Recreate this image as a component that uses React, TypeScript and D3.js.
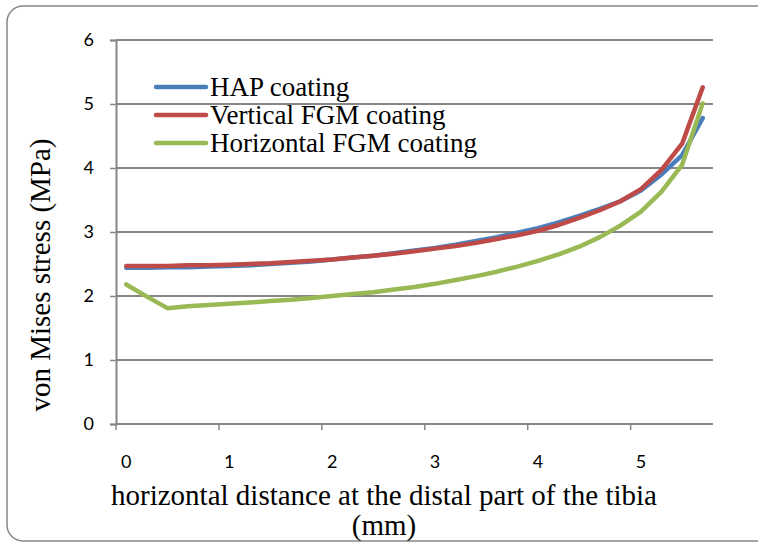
import { useEffect, useRef } from 'react';
import * as d3 from 'd3';

// categories (mm), step 0.2 — only every 5th label is shown on the axis
const categories = [
  '0', '0.2', '0.4', '0.6', '0.8', '1', '1.2', '1.4', '1.6', '1.8',
  '2', '2.2', '2.4', '2.6', '2.8', '3', '3.2', '3.4', '3.6', '3.8',
  '4', '4.2', '4.4', '4.6', '4.8', '5', '5.2', '5.4', '5.6',
];
const shownLabels = ['0', '1', '2', '3', '4', '5'];
const yTicks = [0, 1, 2, 3, 4, 5, 6];

const hap = [
  2.44, 2.44, 2.45, 2.45, 2.46, 2.47, 2.48, 2.50, 2.52, 2.54,
  2.57, 2.60, 2.63, 2.67, 2.71, 2.75, 2.80, 2.86, 2.92, 2.99,
  3.06, 3.15, 3.25, 3.36, 3.48, 3.65, 3.90, 4.20, 4.78,
];
const vertical = [
  2.47, 2.47, 2.47, 2.48, 2.48, 2.49, 2.50, 2.51, 2.53, 2.55,
  2.57, 2.60, 2.63, 2.66, 2.70, 2.74, 2.78, 2.83, 2.89, 2.95,
  3.02, 3.11, 3.22, 3.34, 3.48, 3.67, 3.97, 4.38, 5.26,
];
const horizontal = [
  2.18, 1.99, 1.81, 1.84, 1.86, 1.88, 1.90, 1.92, 1.94, 1.97,
  2.00, 2.03, 2.06, 2.10, 2.14, 2.19, 2.25, 2.31, 2.38, 2.46,
  2.55, 2.65, 2.77, 2.92, 3.10, 3.32, 3.63, 4.05, 5.01,
];

const seriesNames = ['HAP coating', 'Vertical FGM coating', 'Horizontal FGM coating'];
const seriesColors = ['#4a7ebb', '#be4b48', '#98b954'];

const serif = '"Liberation Serif", "Times New Roman", serif';

const App = () => {
  const ref = useRef<SVGSVGElement>(null);

  useEffect(() => {
    const svg = d3.select(ref.current);
    svg.selectAll('*').remove();

    const left = 116, right = 713, top = 40, bottom = 424;
    const grid = '#868686';

    // outer rounded frame
    svg.append('rect')
      .attr('x', 7).attr('y', 6).attr('width', 780).attr('height', 535)
      .attr('rx', 16).attr('fill', 'white')
      .attr('stroke', grid).attr('stroke-width', 1.5);

    const x = d3.scaleBand().domain(categories).range([left, right]).padding(0);
    const y = d3.scaleLinear().domain([0, 6]).range([bottom, top]);

    // gridlines
    svg.append('g').selectAll('line')
      .data(yTicks.filter((t) => t > 0))
      .join('line')
      .attr('x1', left).attr('x2', right)
      .attr('y1', (d) => y(d)).attr('y2', (d) => y(d))
      .attr('stroke', grid).attr('stroke-width', 2);

    // y axis
    const gy = svg.append('g').attr('transform', `translate(${left},0)`)
      .call(d3.axisLeft(y).tickValues(yTicks).tickSize(6).tickPadding(16).tickFormat(d3.format('d')));
    gy.select('.domain').attr('stroke', grid).attr('stroke-width', 2);
    gy.selectAll('.tick line').attr('stroke', grid).attr('stroke-width', 1.5);
    gy.selectAll('text').attr('fill', '#000').style('font-family', 'Lato').style('font-size', '18px');

    // x axis: line + tick marks at category boundaries (every 5th)
    svg.append('line')
      .attr('x1', left).attr('x2', right).attr('y1', bottom).attr('y2', bottom)
      .attr('stroke', grid).attr('stroke-width', 2);
    svg.append('g').selectAll('line')
      .data(shownLabels)
      .join('line')
      .attr('x1', (d) => x(d)!).attr('x2', (d) => x(d)!)
      .attr('y1', bottom).attr('y2', bottom + 6)
      .attr('stroke', grid).attr('stroke-width', 1.5);
    svg.append('g').selectAll('text')
      .data(shownLabels)
      .join('text')
      .attr('x', (d) => x(d)! + x.bandwidth() / 2)
      .attr('y', 468)
      .attr('text-anchor', 'middle')
      .style('font-family', 'Lato').style('font-size', '18px')
      .text((d) => d);

    // lines
    const line = d3.line<number>()
      .x((_, i) => x(categories[i])! + x.bandwidth() / 2)
      .y((d) => y(d));
    [hap, vertical, horizontal].forEach((s, k) => {
      svg.append('path')
        .datum(s)
        .attr('d', line)
        .attr('fill', 'none')
        .attr('stroke', seriesColors[k])
        .attr('stroke-width', 4.5)
        .attr('stroke-linejoin', 'round')
        .attr('stroke-linecap', 'round');
    });

    // legend
    const lg = svg.append('g');
    seriesNames.forEach((name, k) => {
      const ly = 87 + k * 28;
      lg.append('line')
        .attr('x1', 156).attr('x2', 206).attr('y1', ly).attr('y2', ly)
        .attr('stroke', seriesColors[k]).attr('stroke-width', 4.5)
        .attr('stroke-linecap', 'round');
      lg.append('text')
        .attr('x', 210).attr('y', ly + 9)
        .style('font-family', serif).style('font-size', '27px')
        .text(name);
    });

    // axis titles
    svg.append('text')
      .attr('transform', `translate(50,275) rotate(-90)`)
      .attr('text-anchor', 'middle')
      .style('font-family', serif).style('font-size', '29px')
      .text('von Mises stress (MPa)');
    svg.append('text')
      .attr('x', 384).attr('y', 505)
      .attr('text-anchor', 'middle')
      .style('font-family', serif).style('font-size', '29px')
      .text('horizontal distance at the distal part of the tibia');
    svg.append('text')
      .attr('x', 384).attr('y', 535)
      .attr('text-anchor', 'middle')
      .style('font-family', serif).style('font-size', '29px')
      .text('(mm)');
  }, []);

  return (
    <svg ref={ref} width={758} height={544}
      style={{ position: 'absolute', left: 0, top: 0, background: 'white' }} />
  );
};

export default App;
